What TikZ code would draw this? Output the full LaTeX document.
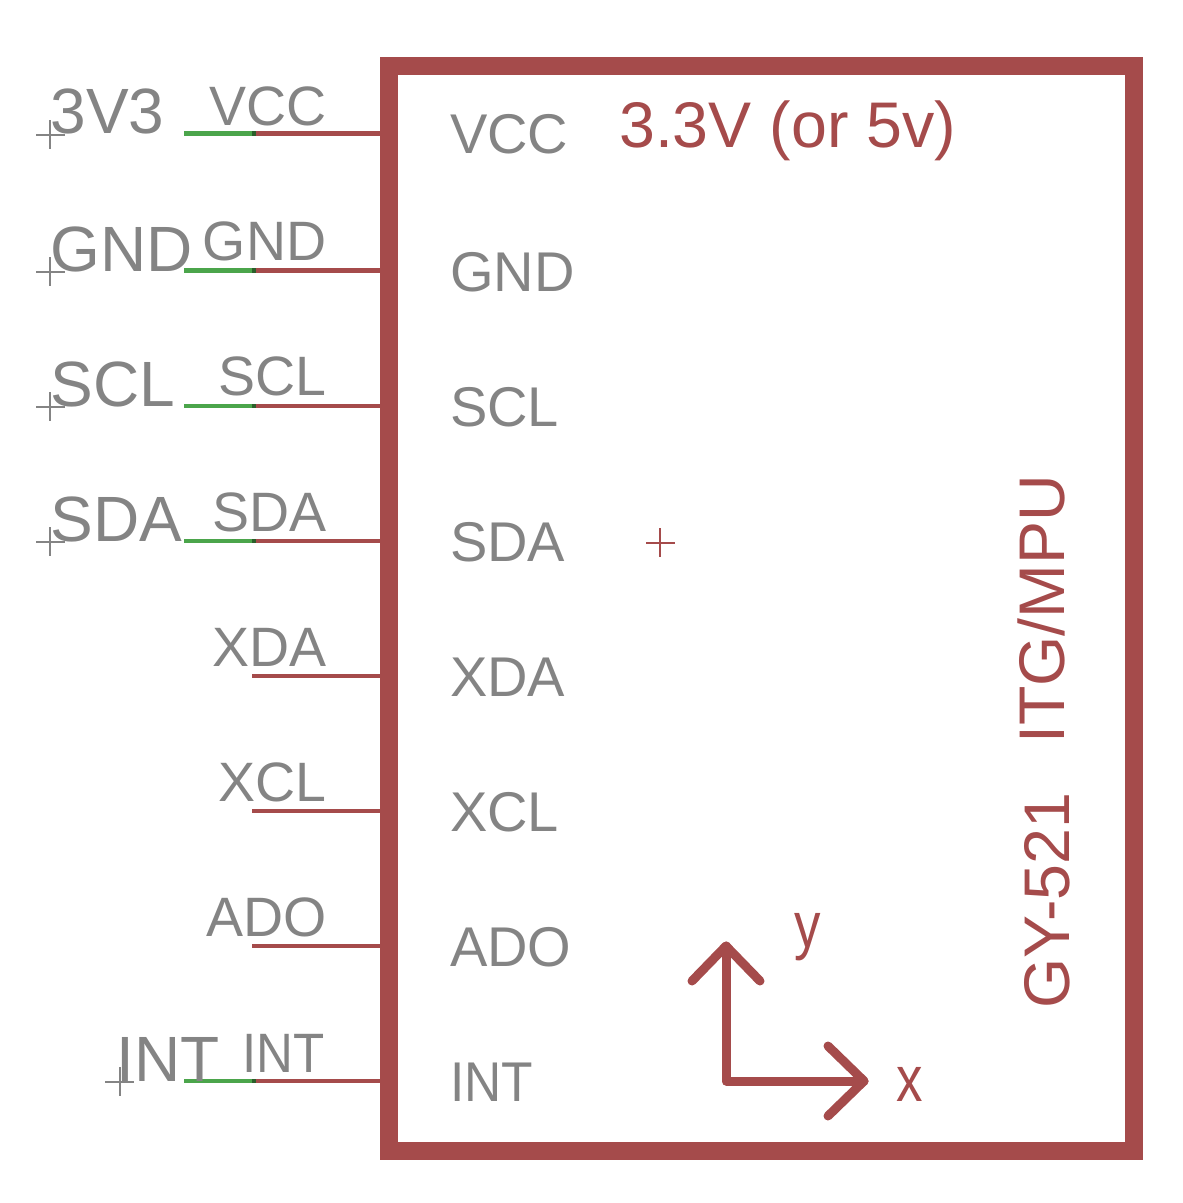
\documentclass[tikz,border=0pt]{standalone}
\usepackage{fontspec}
\setmainfont{Liberation Sans}
\definecolor{netred}{HTML}{A54B4B}
\definecolor{netgreen}{HTML}{4BA54B}
\definecolor{netgray}{HTML}{848484}
\definecolor{netdark}{HTML}{2B5F2B}
\tikzset{
	redline/.style={draw=netred, line width=4.5pt},
	greenline/.style={draw=netgreen, line width=4.5pt},
	joinline/.style={draw=netdark, line width=4.5pt},
	boxline/.style={draw=netred, line width=18pt},
	axisline/.style={draw=netred, line width=9pt, line cap=round, line join=round},
	crossline/.style={line width=2pt},
	pinname/.style={anchor=base east, inner sep=0pt, text=netgray, font=\fontsize{55.5}{55.5}\selectfont},
	padname/.style={anchor=base west, inner sep=0pt, text=netgray, font=\fontsize{64}{64}\selectfont},
	inname/.style={anchor=base west, inner sep=0pt, text=netgray, font=\fontsize{56}{56}\selectfont},
	redtext/.style={anchor=base west, inner sep=0pt, text=netred, font=\fontsize{64.5}{64.5}\selectfont},
}
\begin{document}
\begin{tikzpicture}[x=1pt, y=-1pt]
	\useasboundingbox (0,0) rectangle (1183,1203);

	% Draw the box
	\draw[boxline] (389,66) rectangle (1133.5,1150.5);

	% Wire end points
	\coordinate (vccPad) at (184,133.5);
	\coordinate (vccMid) at (252,133.5);
	\coordinate (vccEnd) at (256,133.5);
	\coordinate (vccBox) at (380,133.5);
	\coordinate (gndPad) at (184,270.5);
	\coordinate (gndMid) at (252,270.5);
	\coordinate (gndEnd) at (256,270.5);
	\coordinate (gndBox) at (380,270.5);
	\coordinate (sclPad) at (184,406);
	\coordinate (sclMid) at (252,406);
	\coordinate (sclEnd) at (256,406);
	\coordinate (sclBox) at (380,406);
	\coordinate (sdaPad) at (184,541);
	\coordinate (sdaMid) at (252,541);
	\coordinate (sdaEnd) at (256,541);
	\coordinate (sdaBox) at (380,541);
	\coordinate (xdaMid) at (252,676);
	\coordinate (xdaBox) at (380,676);
	\coordinate (xclMid) at (252,811);
	\coordinate (xclBox) at (380,811);
	\coordinate (adoMid) at (252,946);
	\coordinate (adoBox) at (380,946);
	\coordinate (intPad) at (184,1081);
	\coordinate (intMid) at (252,1081);
	\coordinate (intEnd) at (256,1081);
	\coordinate (intBox) at (380,1081);

	% Draw the wires entering the box
	\draw[greenline] (vccPad) -- (vccMid);
	\draw[joinline] (vccMid) -- (vccEnd);
	\draw[redline] (vccEnd) -- (vccBox);
	\draw[greenline] (gndPad) -- (gndMid);
	\draw[joinline] (gndMid) -- (gndEnd);
	\draw[redline] (gndEnd) -- (gndBox);
	\draw[greenline] (sclPad) -- (sclMid);
	\draw[joinline] (sclMid) -- (sclEnd);
	\draw[redline] (sclEnd) -- (sclBox);
	\draw[greenline] (sdaPad) -- (sdaMid);
	\draw[joinline] (sdaMid) -- (sdaEnd);
	\draw[redline] (sdaEnd) -- (sdaBox);
	\draw[redline] (xdaMid) -- (xdaBox);
	\draw[redline] (xclMid) -- (xclBox);
	\draw[redline] (adoMid) -- (adoBox);
	\draw[greenline] (intPad) -- (intMid);
	\draw[joinline] (intMid) -- (intEnd);
	\draw[redline] (intEnd) -- (intBox);

	% Labels on the wires
	\node[pinname] (vccPin) at (326.5,125) {VCC};
	\node[pinname] (gndPin) at (326.5,260) {GND};
	\node[pinname] (sclPin) at (326.5,395) {SCL};
	\node[pinname] (sdaPin) at (326.5,531) {SDA};
	\node[pinname] (xdaPin) at (326.5,666) {XDA};
	\node[pinname] (xclPin) at (326.5,801) {XCL};
	\node[pinname] (adoPin) at (326.5,936) {ADO};
	\node[pinname] (intPin) at (325,1072) {\scalebox{.92}[1]{INT}};

	% Labels of the pads
	\node[padname] (vccLabel) at (50.5,133) {3V3};
	\node[padname] (gndLabel) at (50.5,271) {GND};
	\node[padname] (sclLabel) at (50.5,406) {SCL};
	\node[padname] (sdaLabel) at (50.5,541) {SDA};
	\node[padname] (intLabel) at (116.5,1081) {INT};

	% Pad crosses
	\draw[crossline, netgray] (36,135) -- (65,135) (50,120) -- (50,149);
	\draw[crossline, netgray] (36,272) -- (65,272) (50,257) -- (50,286);
	\draw[crossline, netgray] (36,407) -- (65,407) (50,392) -- (50,421);
	\draw[crossline, netgray] (36,542) -- (65,542) (50,527) -- (50,556);
	\draw[crossline, netgray] (105,1082) -- (134,1082) (120,1067) -- (120,1096);

	% Labels inside the box
	\node[inname] (vccIn) at (450,153) {VCC};
	\node[inname] (gndIn) at (450,291) {GND};
	\node[inname] (sclIn) at (450,426) {SCL};
	\node[inname] (sdaIn) at (450,561) {SDA};
	\node[inname] (xdaIn) at (450,696) {XDA};
	\node[inname] (xclIn) at (450,831) {XCL};
	\node[inname] (adoIn) at (450,966) {ADO};
	\node[inname] (intIn) at (450,1101) {\scalebox{.92}[1]{INT}};

	\node[redtext] (supply) at (619,147) {3.3V (or 5v)};
	\node[redtext, rotate=90] (itg) at (1064,744) {ITG/MPU};
	\node[redtext, rotate=90] (board) at (1069,1009) {GY-521};

	% Centre cross
	\draw[crossline, netred] (646,543) -- (675,543) (660,528) -- (660,557);

	% Draw the axes
	\coordinate (origin) at (726,1081);
	\coordinate (yEnd) at (726,946);
	\coordinate (xEnd) at (864,1081);
	\draw[axisline] (yEnd) -- (origin) -- (xEnd);
	\draw[axisline] (692,981) -- (yEnd) -- (760,981);
	\draw[axisline] (828,1046) -- (xEnd) -- (828,1116);
	\node[redtext] (yName) at (794.5,947) {\scalebox{.82}[1]{y}};
	\node[redtext] (xName) at (896.5,1101) {\scalebox{.82}[1]{x}};
\end{tikzpicture}
\end{document}
